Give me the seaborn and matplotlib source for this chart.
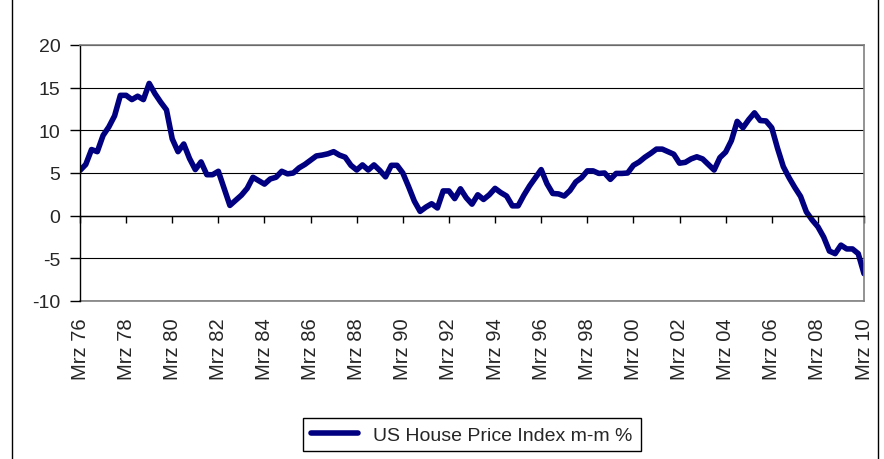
import numpy as np
import pandas as pd
import matplotlib
matplotlib.use("Agg")
import matplotlib.pyplot as plt
import matplotlib.patches
import seaborn as sns

# quarterly values, Mrz 76 .. Mrz 10
hpi_change = [
    5.3, 6.0, 7.75, 7.5, 9.4, 10.4, 11.7, 14.1,
    14.1, 13.6, 14.0, 13.6, 15.5, 14.3, 13.3, 12.4,
    9.0, 7.5, 8.4, 6.7, 5.4, 6.3, 4.8, 4.8,
    5.2, 3.2, 1.2, 1.8, 2.4, 3.2, 4.5, 4.1,
    3.7, 4.3, 4.5, 5.2, 4.9, 5.0, 5.6, 6.0,
    6.5, 7.0, 7.1, 7.25, 7.5, 7.1, 6.85, 5.9,
    5.35, 5.95, 5.35, 5.95, 5.3, 4.55, 5.9, 5.9,
    5.0, 3.4, 1.7, 0.5, 1.0, 1.4, 0.9, 2.9,
    2.9, 2.0, 3.15, 2.1, 1.35, 2.45, 1.9, 2.45,
    3.2, 2.7, 2.3, 1.15, 1.15, 2.4, 3.5, 4.45,
    5.4, 3.75, 2.6, 2.55, 2.3, 2.95, 3.95, 4.45,
    5.25, 5.25, 4.95, 5.0, 4.25, 4.95, 4.95, 5.0,
    5.9, 6.3, 6.85, 7.3, 7.8, 7.8, 7.5, 7.2,
    6.15, 6.25, 6.65, 6.9, 6.65, 6.0, 5.35, 6.8,
    7.45, 8.8, 11.05, 10.3, 11.25, 12.05, 11.15, 11.1,
    10.3, 7.9, 5.75, 4.45, 3.3, 2.25, 0.45, -0.5,
    -1.3, -2.5, -4.15, -4.45, -3.45, -3.9, -3.9, -4.45,
    -6.8,
]
tick_labels = ["Mrz 76", "Mrz 78", "Mrz 80", "Mrz 82", "Mrz 84", "Mrz 86",
               "Mrz 88", "Mrz 90", "Mrz 92", "Mrz 94", "Mrz 96", "Mrz 98",
               "Mrz 00", "Mrz 02", "Mrz 04", "Mrz 06", "Mrz 08", "Mrz 10"]
y_ticks = [-10, -5, 0, 5, 10, 15, 20]
series_name = "US House Price Index m-m %"

n = len(hpi_change)
df = pd.DataFrame({"quarter": np.arange(n), "value": hpi_change})

sns.set_style("white")
plt.rcParams["font.family"] = ["Liberation Sans", "DejaVu Sans"]
plt.rcParams["font.size"] = 14
plt.rcParams["axes.unicode_minus"] = False

fig = plt.figure(figsize=(8.84, 4.6), dpi=100)
ax = fig.add_axes([80 / 884, 158 / 460, 784 / 884, 256 / 460])

sns.lineplot(data=df, x="quarter", y="value", color="#000080", lw=4,
             label=series_name, ax=ax)

ax.set_xlim(0, n - 1)
ax.set_ylim(-10, 20)
ax.set_yticks(y_ticks)
ax.set_xlabel("")
ax.set_ylabel("")
ax.yaxis.grid(True, color="black", lw=0.8)
ax.set_axisbelow(True)

for side in ["top", "right"]:
    ax.spines[side].set_color("#808080")
    ax.spines[side].set_linewidth(1.2)
ax.spines["left"].set_color("black")
ax.spines["left"].set_linewidth(1)
# category axis crosses at zero
ax.spines["bottom"].set_position(("data", 0))
ax.spines["bottom"].set_color("black")
ax.spines["bottom"].set_linewidth(1)

tick_pos = list(range(0, n, 8))
ax.set_xticks(tick_pos)
ax.tick_params(axis="x", bottom=True, labelbottom=False, length=5, width=1,
               direction="out", color="black")
ax.tick_params(axis="y", left=True, length=7, width=1, direction="out",
               color="black", pad=7, labelsize=14)

# labels sit low, below the plot area
sec = ax.secondary_xaxis("bottom")
sec.set_ticks(tick_pos, labels=tick_labels)
plt.setp(sec.get_xticklabels(), rotation=90)
sec.tick_params(length=0, pad=12, labelsize=14.5)
sec.spines["bottom"].set_color("#808080")
sec.spines["bottom"].set_linewidth(1.2)

leg = ax.legend(loc="center", bbox_to_anchor=(0.5, -0.523), frameon=True,
                fancybox=False, framealpha=1, edgecolor="black",
                handlelength=2.4, borderpad=0.4, fontsize=14)
leg.get_frame().set_linewidth(1)

# chart area border (cut off at top and bottom)
fig.patches.append(matplotlib.patches.Rectangle(
    (12 / 884, -0.05), 866 / 884, 1.1, transform=fig.transFigure,
    fill=False, edgecolor="black", lw=1))

fig.savefig("out.png", dpi=100)
